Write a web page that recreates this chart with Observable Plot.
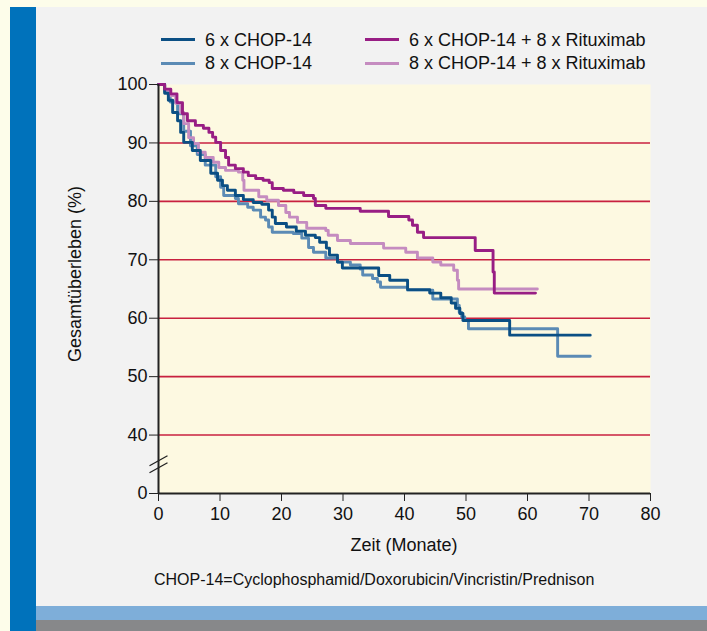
<!DOCTYPE html>
<html>
<head>
<meta charset="utf-8">
<script src="https://cdn.jsdelivr.net/npm/d3@7"></script>
<script src="https://cdn.jsdelivr.net/npm/@observablehq/plot@0.6"></script>
<style>
  html, body { margin: 0; padding: 0; }
  body { width: 707px; height: 631px; position: relative; overflow: hidden; background: #fdfdea;
         font-family: "Liberation Sans", Arial, sans-serif; color: #111; }
  .abs { position: absolute; }
  #panel { left: 10px; top: 7px; right: 0; bottom: 0; background: #f2f2f2; }
  #bluebar { left: 10px; top: 7px; width: 26px; bottom: 0; background: #0072bb; }
  #lightbar { left: 36px; right: 0; top: 606px; height: 14px; background: #7eaed9; }
  #graybar { left: 36px; right: 0; top: 620px; height: 11px; background: #87888a; }
  .leg { display: flex; align-items: center; font-size: 18px; line-height: 18px; white-space: nowrap; }
  .leg span.sw { display: inline-block; width: 34px; height: 3px; margin-right: 10px; }
  #chart { left: 0; top: 0; }
  .lbl { font-size: 18px; line-height: 18px; white-space: nowrap; }
</style>
</head>
<body>
<div class="abs" id="panel"></div>
<div class="abs" id="bluebar"></div>
<div class="abs" id="lightbar"></div>
<div class="abs" id="graybar"></div>
<div class="abs" id="chart"></div>
<div id="legend"></div>
<div class="abs lbl" id="ylabel"></div>
<div class="abs lbl" id="xlabel"></div>
<div class="abs" id="caption"></div>
<script>
// ---- Data ----
const seriesNames = ["6 x CHOP-14", "8 x CHOP-14", "6 x CHOP-14 + 8 x Rituximab", "8 x CHOP-14 + 8 x Rituximab"];
const seriesColors = ["#0b4f84", "#5b8bb5", "#981e84", "#c58cc0"];

const c6Time = [0, 1.0, 1.6, 2.3, 3.1, 3.6, 4.1, 5.5, 6.8, 8.5, 9.6, 10.4, 11.2, 12.5, 13.8, 15.4, 16.8, 17.9, 18.5, 19.0, 20.8, 22.4, 23.9, 25.5, 26.2, 27.3, 27.8, 29.1, 29.9, 35.8, 37.6, 40.5, 44.1, 45.9, 47.6, 48.3, 49.0, 49.5, 57.1, 70.2];
const c6Surv = [100, 98.5, 97.3, 95.2, 93.8, 91.8, 90.1, 88.7, 87.0, 84.8, 83.6, 82.7, 81.9, 81.0, 80.3, 79.8, 79.5, 78.5, 77.3, 76.2, 75.6, 74.9, 74.2, 73.8, 73.0, 72.0, 70.8, 69.6, 68.6, 67.3, 66.5, 64.9, 64.3, 63.5, 62.6, 61.7, 60.8, 59.6, 57.1, 57.1];

const c8Time = [0, 1.0, 1.9, 3.1, 4.1, 5.2, 6.3, 7.6, 9.3, 10.1, 10.6, 12.5, 13.0, 14.5, 15.4, 16.6, 17.4, 17.9, 18.5, 21.9, 23.3, 24.4, 25.2, 27.2, 29.1, 31.2, 32.8, 33.2, 34.8, 35.6, 36.1, 40.5, 44.6, 48.6, 48.9, 49.3, 49.8, 50.4, 64.9, 70.2];
const c8Surv = [100, 98.8, 97.0, 95.0, 92.0, 89.5, 88.0, 86.2, 84.2, 82.4, 81.0, 80.5, 79.6, 79.0, 78.5, 77.3, 76.8, 75.6, 74.7, 74.5, 73.7, 72.1, 71.3, 70.3, 69.6, 69.1, 68.4, 67.4, 66.8, 66.2, 65.3, 64.8, 63.3, 62.2, 61.0, 60.2, 59.6, 58.2, 53.5, 53.5];

const r6Time = [0, 1.0, 2.0, 3.0, 3.9, 4.7, 6.0, 7.3, 8.2, 8.8, 9.3, 10.1, 10.9, 11.4, 12.5, 13.8, 14.6, 15.8, 17.0, 18.0, 18.5, 20.3, 22.0, 23.6, 25.2, 25.5, 27.2, 32.8, 37.4, 40.7, 41.3, 42.1, 43.1, 51.5, 54.4, 54.6, 61.3];
const r6Surv = [100, 99.2, 98.4, 96.9, 95.0, 93.8, 93.0, 92.5, 91.8, 91.0, 90.1, 88.7, 87.5, 86.2, 85.6, 85.0, 84.4, 83.9, 83.6, 83.2, 82.2, 81.9, 81.5, 81.0, 80.5, 79.3, 78.8, 78.3, 77.4, 76.8, 75.9, 74.7, 73.8, 71.6, 67.9, 64.3, 64.3];

const r8Time = [0, 1.0, 1.6, 2.8, 3.6, 4.1, 4.9, 5.7, 6.5, 7.6, 8.9, 9.8, 10.9, 13.0, 13.7, 13.9, 16.3, 17.6, 19.5, 20.7, 21.3, 22.6, 24.1, 27.2, 27.6, 29.1, 31.2, 36.6, 40.2, 42.1, 44.6, 45.9, 48.0, 48.6, 48.8, 61.6];
const r8Surv = [100, 99.0, 98.1, 96.8, 95.2, 93.3, 90.9, 89.9, 88.4, 87.5, 86.7, 85.8, 85.3, 85.0, 83.6, 81.9, 80.8, 80.2, 79.3, 78.1, 77.3, 76.4, 75.4, 75.0, 74.2, 73.3, 72.8, 72.0, 71.3, 70.3, 69.6, 69.1, 68.2, 66.5, 65.0, 65.0];

const xTicks = [0, 10, 20, 30, 40, 50, 60, 70, 80];
const yTicks = [30, 40, 50, 60, 70, 80, 90, 100];        // axis is broken: position 30 carries label "0"
const yTickLabels = ["0", "40", "50", "60", "70", "80", "90", "100"];
const gridValues = [40, 50, 60, 70, 80, 90];
const axisBreak = [35];
const xLabel = "Zeit (Monate)";
const yLabel = "Gesamtüberleben (%)";
const caption = "CHOP-14=Cyclophosphamid/Doxorubicin/Vincristin/Prednison";

// ---- Build table ----
const seriesData = [
  [seriesNames[1], c8Time, c8Surv],
  [seriesNames[3], r8Time, r8Surv],
  [seriesNames[0], c6Time, c6Surv],
  [seriesNames[2], r6Time, r6Surv]
];
const rows = seriesData.flatMap(([name, ts, ss]) => ts.map((t, i) => ({series: name, t, s: ss[i]})));

const breakSymbol = {
  draw(ctx) {
    ctx.moveTo(-9, 1.5); ctx.lineTo(9, -8.5);
    ctx.moveTo(-9, 8.5); ctx.lineTo(9, -1.5);
  }
};

const chart = Plot.plot({
  width: 707, height: 631,
  marginLeft: 158, marginRight: 57, marginTop: 84, marginBottom: 138,
  x: {domain: [0, 80]},
  y: {domain: [30, 100]},
  color: {domain: seriesNames, range: seriesColors},
  style: {background: "transparent", fontFamily: "'Liberation Sans', Arial, sans-serif", fontSize: "18px", color: "#111", overflow: "visible"},
  marks: [
    Plot.frame({fill: "#fdf9e1", stroke: "none"}),
    Plot.ruleY(gridValues, {stroke: "#c8213f", strokeWidth: 1.6}),
    Plot.line(rows, {x: "t", y: "s", z: "series", stroke: "series", curve: "step-after", strokeWidth: 2.9}),
    Plot.ruleX([0], {stroke: "#222", strokeWidth: 2}),
    Plot.ruleY([30], {stroke: "#222", strokeWidth: 2}),
    Plot.axisX({ticks: xTicks, tickSize: 8, tickPadding: 6, label: null, stroke: "#222", fill: "#111"}),
    Plot.axisY({ticks: yTicks, tickFormat: d => yTickLabels[yTicks.indexOf(d)], tickSize: 9, tickPadding: 2, label: null, stroke: "#222", fill: "#111"}),
    Plot.dot(axisBreak, {x: d => 0, y: d => d, symbol: breakSymbol, stroke: "#222", strokeWidth: 1.3, fill: "none"})
  ]
});
document.getElementById("chart").appendChild(chart);

// ---- Legend ----
const legendPos = [[161, 30.5], [161, 54], [365, 30.5], [365, 54]];
const legend = document.getElementById("legend");
[0, 1, 2, 3].forEach(i => {
  const el = document.createElement("div");
  el.className = "abs leg";
  el.style.left = legendPos[i][0] + "px";
  el.style.top = legendPos[i][1] + "px";
  el.innerHTML = `<span class="sw" style="background:${seriesColors[i]}"></span><span>${seriesNames[i]}</span>`;
  legend.appendChild(el);
});

// ---- Labels ----
const yl = document.getElementById("ylabel");
yl.textContent = yLabel;
yl.style.left = "75px"; yl.style.top = "274px";
yl.style.transform = "translate(-50%, -50%) rotate(-90deg)";

const xl = document.getElementById("xlabel");
xl.textContent = xLabel;
xl.style.left = "404px"; xl.style.top = "545px";
xl.style.transform = "translate(-50%, -50%)";

const cap = document.getElementById("caption");
cap.textContent = caption;
cap.style.left = "154px"; cap.style.top = "572px";
cap.style.fontSize = "16px"; cap.style.lineHeight = "16px"; cap.style.whiteSpace = "nowrap";
</script>
</body>
</html>
